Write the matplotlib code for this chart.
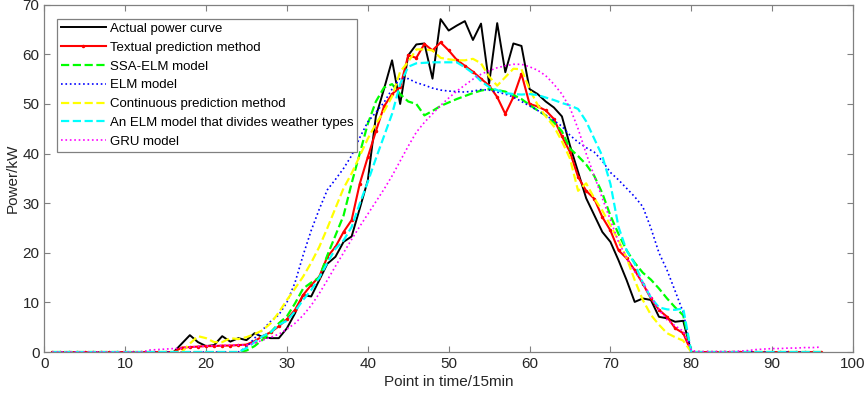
import numpy as np
import matplotlib
matplotlib.use("Agg")
import matplotlib.pyplot as plt

plt.rcParams['font.family'] = ['Liberation Sans', 'DejaVu Sans']

# pontos de tempo (intervalos de 15 min)
t = np.arange(1, 97)

zeros = lambda n: [0.0] * n  # trechos nulos no início/fim do dia

actual = zeros(16) + [1.7, 3.4, 2.0, 1.2, 1.4, 3.2, 2.1, 2.8, 2.4, 3.8, 3.0, 2.8, 2.8, 4.8,
                      7.8, 11.5, 11.2, 14.5, 17.8, 19.2, 22.2, 23.3, 28.9, 34.6, 47.5, 53.0,
                      58.8, 50.0, 59.8, 62.0, 62.2, 55.1, 67.1, 64.8, 65.8, 66.7, 62.9, 66.2,
                      54.1, 66.3, 56.4, 62.2, 61.7, 53.0, 52.0, 50.5, 49.3, 47.5, 41.6, 36.3,
                      31.0, 27.6, 24.2, 22.2, 18.5, 14.5, 10.1, 10.8, 10.5, 7.1, 6.8, 6.1,
                      6.3, 0.0] + zeros(16)

textual = zeros(16) + [0.9, 1.0, 1.1, 1.2, 1.2, 1.3, 1.3, 1.4, 1.5, 2.2, 3.2, 4.0, 5.2, 6.6,
                       8.5, 11.5, 13.5, 15.2, 19.2, 21.2, 24.2, 26.6, 33.9, 39.3, 44.5, 49.5,
                       52.0, 53.4, 59.8, 59.3, 62.1, 60.8, 62.4, 60.8, 58.9, 57.7, 56.5, 55.1,
                       53.7, 51.4, 48.0, 51.4, 56.1, 50.0, 49.5, 48.7, 47.0, 43.5, 40.3, 35.3,
                       32.5, 30.9, 27.2, 24.5, 20.5, 18.9, 16.5, 13.8, 10.8, 8.5, 7.1, 4.8,
                       3.8, 0.0] + zeros(16)

ssa_elm = zeros(24) + [0.3, 1.2, 2.5, 4.0, 5.8, 7.2, 9.8, 12.8, 14.0, 15.0, 19.5, 23.5, 27.5,
                       34.0, 40.0, 46.0, 50.5, 53.3, 54.0, 52.0, 50.5, 50.0, 47.7, 48.6, 49.6,
                       50.3, 51.0, 51.6, 52.2, 52.7, 53.0, 52.8, 52.5, 51.8, 51.0, 49.8, 48.7,
                       47.7, 46.3, 44.5, 41.0, 39.5, 37.8, 35.5, 32.0, 27.5, 23.8, 20.5, 18.0,
                       16.0, 14.6, 12.8, 10.8, 9.0, 7.4, 0.0] + zeros(16)

elm = zeros(24) + [1.0, 2.8, 4.5, 6.2, 7.5, 10.0, 14.0, 19.5, 24.5, 28.8, 32.7, 34.8, 37.0,
                   39.6, 43.2, 46.4, 48.3, 50.3, 53.0, 55.2, 55.1, 54.3, 53.8, 53.2, 52.8,
                   52.6, 52.5, 52.4, 52.6, 52.9, 52.8, 52.4, 52.0, 51.4, 50.5, 49.6, 48.7,
                   47.7, 46.7, 45.5, 43.7, 42.3, 41.2, 40.3, 38.5, 36.2, 34.7, 33.0, 31.3,
                   29.3, 25.0, 20.0, 16.5, 12.3, 8.0, 0.0] + zeros(16)

continuous = zeros(17) + [1.7, 3.2, 2.8, 2.0, 2.0, 2.8, 2.6, 3.0, 3.6, 4.4, 5.8, 8.0, 10.5,
                          12.8, 15.2, 18.0, 21.2, 25.0, 29.0, 33.0, 36.0, 39.5, 43.0, 46.0,
                          48.5, 51.5, 56.5, 58.5, 61.0, 61.0, 60.8, 59.3, 59.0, 58.8, 58.8,
                          59.1, 58.2, 55.5, 53.7, 55.4, 57.1, 57.0, 53.0, 49.8, 47.5, 45.5,
                          42.5, 39.0, 32.5, 34.0, 31.0, 28.5, 25.5, 22.5, 19.0, 14.5, 10.5,
                          7.5, 5.5, 3.8, 3.0, 2.3, 0.0] + zeros(16)

elm_weather = zeros(24) + [0.8, 2.0, 3.2, 4.0, 5.5, 6.3, 8.2, 10.5, 12.5, 15.0, 18.0, 20.8,
                           22.5, 25.2, 29.9, 34.3, 39.0, 43.5, 48.0, 54.0, 57.5, 58.2, 58.3,
                           58.4, 58.4, 58.4, 58.4, 57.4, 56.2, 54.6, 53.4, 52.8, 52.2, 52.0,
                           51.9, 52.0, 51.8, 51.3, 50.8, 50.2, 49.7, 49.0, 46.5, 43.0, 39.5,
                           33.9, 25.2, 20.5, 17.8, 14.0, 11.0, 9.0, 8.6, 8.5, 8.8, 0.0] + zeros(16)

gru = zeros(12) + [0.4, 0.5, 0.6, 0.7, 0.8, 1.0, 1.1, 1.2, 1.3, 1.3, 1.4, 1.4, 1.4, 1.8, 2.4,
                   3.0, 3.6, 4.6, 5.8, 7.4, 9.4, 11.8, 14.5, 17.3, 20.0, 22.7, 25.3, 27.8,
                   30.3, 32.8, 35.5, 38.5, 41.5, 44.3, 46.3, 48.0, 49.7, 51.2, 52.6, 53.8,
                   55.0, 56.0, 56.7, 57.3, 57.7, 58.0, 58.0, 57.5, 56.8, 55.7, 54.0, 52.0,
                   49.2, 45.0, 40.0, 35.5, 31.0, 26.6, 22.2, 19.0, 16.2, 14.0, 11.2, 8.5,
                   6.5, 5.3, 4.2, 0.3, 0.1, 0.1, 0.1, 0.1, 0.1, 0.2, 0.3, 0.5, 0.6, 0.7,
                   0.7, 0.8, 0.8, 0.9, 0.9, 1.0]

labels = ["Actual power curve", "Textual prediction method", "SSA-ELM model", "ELM model",
          "Continuous prediction method", "An ELM model that divides weather types", "GRU model"]

fig = plt.figure(figsize=(8.65, 3.96), dpi=100)
ax = fig.add_axes([0.0512, 0.111, 0.935, 0.877])

ax.plot(t, actual, color="k", lw=1.4, label=labels[0])
ax.plot(t, textual, color="#ff0000", lw=1.5, marker=".", ms=3, label=labels[1])
ax.plot(t, ssa_elm, color="#00ff00", lw=1.6, ls="--", label=labels[2])
ax.plot(t, elm, color="#0000ff", lw=1.2, ls=":", label=labels[3])
ax.plot(t, continuous, color="#ffff00", lw=1.6, ls="--", label=labels[4])
ax.plot(t, elm_weather, color="#00ffff", lw=1.6, ls="--", label=labels[5])
ax.plot(t, gru, color="#ff00ff", lw=1.2, ls=":", label=labels[6])

ax.set_xlim(0, 100)
ax.set_ylim(0, 70)
ax.set_xticks(range(0, 101, 10))
ax.set_yticks(range(0, 71, 10))
ax.tick_params(direction="in", top=True, right=True, labelsize=11, colors="#262626",
               length=4, width=0.8)
for s in ax.spines.values():
    s.set_color("#808080")
    s.set_linewidth(0.9)
ax.tick_params(axis="both", which="both", color="#808080")

ax.set_xlabel("Point in time/15min", fontsize=11, color="#262626", labelpad=3)
ax.set_ylabel("Power/kW", fontsize=11, color="#262626", labelpad=2)

leg = ax.legend(loc="upper left", fontsize=9.5, handlelength=3.4, borderpad=0.3,
                labelspacing=0.5, handletextpad=0.3, borderaxespad=0, fancybox=False,
                framealpha=1, bbox_to_anchor=(0.0157, 0.96))
leg.get_frame().set_edgecolor("#808080")
leg.get_frame().set_linewidth(0.9)

fig.savefig("out.png", dpi=100)
